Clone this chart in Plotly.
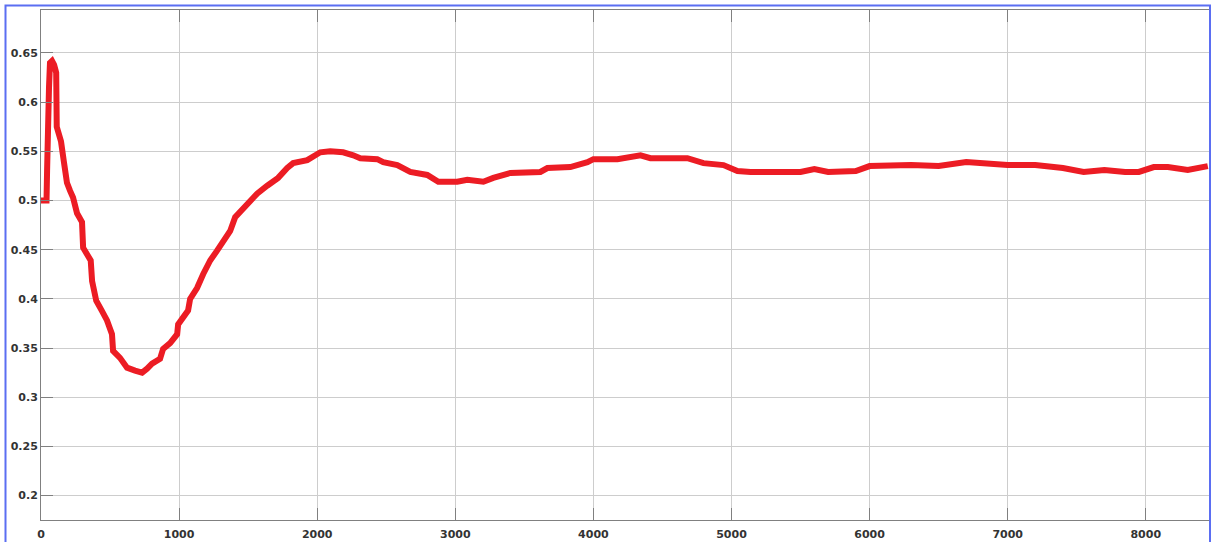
import plotly.graph_objects as go

# Sample index and the running estimate at that index
samples = [0, 40, 44, 46, 50, 58, 65, 80, 95, 110, 114, 130, 145, 165, 188, 210,
           232, 261, 297, 305, 360, 370, 400, 440, 478, 514, 522, 572, 623, 681,
           732, 768, 804, 862, 884, 935, 986, 993, 1029, 1065, 1080, 1130, 1174,
           1225, 1275, 1319, 1370, 1406, 1464, 1514, 1565, 1638, 1717, 1783, 1826,
           1928, 1971, 2022, 2094, 2188, 2261, 2312, 2435, 2478, 2580, 2674, 2797,
           2877, 3014, 3087, 3203, 3275, 3399, 3616, 3667, 3833, 3957, 4000, 4174,
           4341, 4413, 4609, 4681, 4797, 4942, 5043, 5138, 5300, 5500, 5600, 5700,
           5900, 6000, 6300, 6500, 6700, 7000, 7200, 7400, 7550, 7700, 7850, 7950,
           8058, 8160, 8304, 8449]
estimate = [0.500, 0.500, 0.530, 0.575, 0.595, 0.615, 0.640, 0.642, 0.638, 0.630,
            0.575, 0.568, 0.560, 0.540, 0.518, 0.510, 0.503, 0.487, 0.478, 0.452,
            0.439, 0.418, 0.398, 0.388, 0.378, 0.364, 0.347, 0.340, 0.330, 0.327,
            0.325, 0.329, 0.334, 0.339, 0.349, 0.355, 0.364, 0.374, 0.381, 0.388,
            0.400, 0.411, 0.425, 0.439, 0.449, 0.459, 0.469, 0.483, 0.492, 0.500,
            0.507, 0.515, 0.523, 0.533, 0.538, 0.541, 0.544, 0.549, 0.550, 0.549,
            0.546, 0.543, 0.542, 0.539, 0.536, 0.529, 0.526, 0.519, 0.519, 0.521,
            0.519, 0.523, 0.528, 0.529, 0.533, 0.534, 0.539, 0.542, 0.542, 0.546,
            0.543, 0.542, 0.543, 0.538, 0.536, 0.530, 0.529, 0.529, 0.529, 0.532,
            0.529, 0.530, 0.535, 0.536, 0.535, 0.539, 0.536, 0.536, 0.533, 0.529,
            0.531, 0.529, 0.529, 0.534, 0.534, 0.531, 0.535]

x_ticks = [0, 1000, 2000, 3000, 4000, 5000, 6000, 7000, 8000]
y_ticks = [0.2, 0.25, 0.3, 0.35, 0.4, 0.45, 0.5, 0.55, 0.6, 0.65]
y_tick_text = ["0.2", "0.25", "0.3", "0.35", "0.4", "0.45", "0.5", "0.55", "0.6", "0.65"]

W, H = 1212, 542
L, R, T, B = 41, 2, 10, 22

fig = go.Figure()
fig.add_trace(go.Scatter(
    x=samples, y=estimate, mode="lines",
    line=dict(color="#ec1c24", width=6),
    showlegend=False,
))

tick_font = dict(family="DejaVu Sans", size=11, color="#333333", weight="bold")

fig.update_xaxes(
    range=[0, 8465], tickvals=x_ticks, ticks="inside", ticklen=12,
    tickcolor="#808080", showgrid=True, gridcolor="#cdcdcd", gridwidth=1,
    showline=True, linecolor="#808080", linewidth=1, mirror="ticks",
    zeroline=False, tickfont=tick_font, ticklabelstandoff=4,
)
fig.update_yaxes(
    range=[0.1751, 0.6937], tickvals=y_ticks, ticktext=y_tick_text,
    ticks="inside", ticklen=12, tickcolor="#808080", showgrid=True,
    gridcolor="#cdcdcd", gridwidth=1, showline=True, linecolor="#808080",
    linewidth=1, zeroline=False, tickfont=tick_font,
)

# Blue frame around the figure panel
pw, ph = W - L - R, H - T - B
def px_x(p):
    return (p - L) / pw
def px_y(p):
    return (H - B - p) / ph

fig.add_shape(type="rect", xref="paper", yref="paper",
              x0=px_x(5.5), x1=px_x(1210), y0=px_y(560), y1=px_y(5.5),
              line=dict(color="#5b6ef2", width=2), fillcolor="rgba(0,0,0,0)",
              layer="above")

fig.update_layout(
    width=W, height=H,
    margin=dict(l=L, r=R, t=T, b=B, pad=0),
    paper_bgcolor="white", plot_bgcolor="white",
)

fig.write_html("out.html")
